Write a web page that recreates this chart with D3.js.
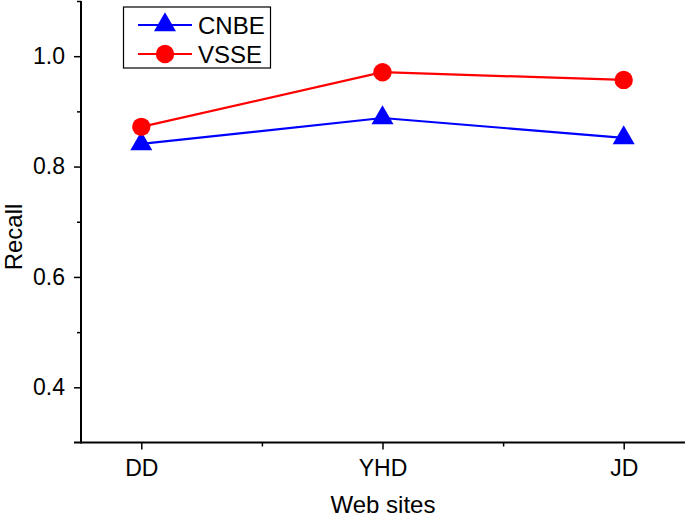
<!DOCTYPE html>
<html><head><meta charset="utf-8">
<script src="https://cdn.jsdelivr.net/npm/d3@7"></script>
<style>body{margin:0;background:#fff}svg{display:block}text{font-family:"Liberation Sans",Arial,sans-serif}</style>
</head><body><svg id="c" width="685" height="517"></svg>
<script>
const categories = ["DD","YHD","JD"];
const cnbe = [0.841, 0.888, 0.852];
const vsse = [0.872, 0.971, 0.957];
const yTicks = [0.4, 0.6, 0.8, 1.0];
const yMinor = [0.5, 0.7, 0.9, 1.1];
const seriesNames = ["CNBE","VSSE"];

(function(){
const svg = d3.select("#c");
const mLeft = 81, mRight = 684, mTop = 1, mBottom = 442.5;
const x = d3.scaleLinear().domain([-0.25, 2.25]).range([mLeft, mRight]);
const y = d3.scaleLinear().domain([0.3, 1.1]).range([mBottom, mTop]);

// y axis
const yAxis = svg.append("g").attr("transform", `translate(${mLeft},0)`)
  .call(d3.axisLeft(y).tickValues(yTicks).tickFormat(d3.format(".1f")).tickSize(7).tickSizeOuter(0));
yAxis.select(".domain").remove();
svg.append("g").attr("transform", `translate(${mLeft},0)`)
  .call(d3.axisLeft(y).tickValues(yMinor).tickFormat("").tickSize(4).tickSizeOuter(0))
  .select(".domain").remove();
svg.append("line").attr("x1",mLeft).attr("x2",mLeft).attr("y1",mTop).attr("y2",mBottom+1).attr("stroke","#000").attr("stroke-width",2);
yAxis.selectAll("text").attr("font-size",23).attr("x",-16).attr("fill","#000");

// x axis
const xAxis = svg.append("g").attr("transform", `translate(0,${mBottom})`)
  .call(d3.axisBottom(x).tickValues([0,1,2]).tickFormat(i=>categories[i]).tickSize(7).tickSizeOuter(0));
xAxis.select(".domain").remove();
svg.append("g").attr("transform", `translate(0,${mBottom})`)
  .call(d3.axisBottom(x).tickValues([0.5,1.5]).tickFormat("").tickSize(4).tickSizeOuter(0))
  .select(".domain").remove();
svg.append("line").attr("x1",mLeft-7).attr("x2",mRight+1).attr("y1",mBottom).attr("y2",mBottom).attr("stroke","#000").attr("stroke-width",2);
xAxis.selectAll("text").attr("font-size",23).attr("y",17.5).attr("fill","#000");
svg.selectAll("g.tick line").attr("stroke-width",1.5);

// titles
svg.append("text").attr("x",383).attr("y",513).attr("text-anchor","middle").attr("font-size",24).text("Web sites");
svg.append("text").attr("transform","translate(21.5,237) rotate(-90)").attr("text-anchor","middle").attr("font-size",24).text("Recall");

const line = d3.line().x((d,i)=>x(i)).y(d=>y(d));
const tri = d3.symbol().type(d3.symbolTriangle).size(210);

// CNBE
svg.append("path").datum(cnbe).attr("d",line).attr("fill","none").attr("stroke","#0000ff").attr("stroke-width",2.2);
svg.selectAll(".tri").data(cnbe).join("path").attr("class","tri")
  .attr("transform",(d,i)=>`translate(${x(i)},${y(d)})`).attr("d",tri).attr("fill","#0000ff");
// VSSE
svg.append("path").datum(vsse).attr("d",line).attr("fill","none").attr("stroke","#ff0000").attr("stroke-width",2.2);
svg.selectAll(".cir").data(vsse).join("circle").attr("class","cir")
  .attr("cx",(d,i)=>x(i)).attr("cy",d=>y(d)).attr("r",9.2).attr("fill","#ff0000");

// legend
const lg = svg.append("g");
lg.append("rect").attr("x",123.5).attr("y",7).attr("width",147).attr("height",61).attr("fill","#fff").attr("stroke","#000").attr("stroke-width",1.2);
const colors = ["#0000ff","#ff0000"];
seriesNames.forEach((n,i)=>{
  const yy = 25 + i*29;
  lg.append("line").attr("x1",138).attr("x2",192).attr("y1",yy).attr("y2",yy).attr("stroke",colors[i]).attr("stroke-width",2.2);
  if(i===0) lg.append("path").attr("transform",`translate(165,${yy})`).attr("d",tri).attr("fill",colors[i]);
  else lg.append("circle").attr("cx",165).attr("cy",yy).attr("r",9.2).attr("fill",colors[i]);
  lg.append("text").attr("x",198).attr("y",yy+9).attr("font-size",24).text(n);
});
})();
</script></body></html>
